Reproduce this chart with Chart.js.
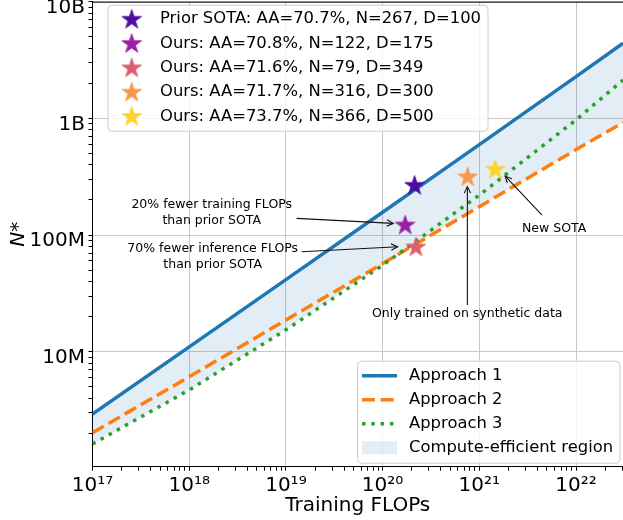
<!DOCTYPE html>
<html><head><meta charset="utf-8">
<script src="https://cdn.jsdelivr.net/npm/chart.js@4.4.0/dist/chart.umd.min.js"></script>
<style>html,body{margin:0;padding:0;background:#fff;overflow:hidden}canvas{display:block}</style>
</head><body>
<canvas id="c" width="623" height="520"></canvas>
<script>
// ---------------- data ----------------
const curveFlops = [1e17, 1e18, 1e19, 1e20, 1e21, 1e22, 3.06e22];
const approach1  = [2.92e6, 1.10e7, 4.15e7, 1.57e8, 5.95e8, 2.28e9, 4.4e9];
const approach2  = [2.02e6, 6.1e6, 1.87e7, 5.7e7, 1.75e8, 5.4e8, 9.2e8];
const approach3  = [1.62e6, 4.7e6, 1.54e7, 5.5e7, 2.2e8, 9.7e8, 2.13e9];
const seriesNames = ['Approach 1', 'Approach 2', 'Approach 3'];
const regionName = 'Compute-efficient region';

const modelFlops  = [2.14e20, 1.71e20, 2.21e20, 7.58e20, 1.46e21];
const modelParams = [267e6, 122e6, 79e6, 316e6, 366e6];
const modelNames  = [
  'Prior SOTA: AA=70.7%, N=267, D=100',
  'Ours: AA=70.8%, N=122, D=175',
  'Ours: AA=71.6%, N=79, D=349',
  'Ours: AA=71.7%, N=316, D=300',
  'Ours: AA=73.7%, N=366, D=500'
];

const xTickValues = [1e17, 1e18, 1e19, 1e20, 1e21, 1e22];
const xTickLabels = ['10¹⁷', '10¹⁸', '10¹⁹', '10²⁰', '10²¹', '10²²'];
const yTickValues = [1e7, 1e8, 1e9, 1e10];
const yTickLabels = ['10M', '100M', '1B', '10B'];
const xTitle = 'Training FLOPs';
const yTitle = 'N*';

// annotations: text anchor / arrow in data coordinates
const annotations = [
  {lines: ['20% fewer training FLOPs', 'than prior SOTA'], at: [1.71e18, 1.55e8], from: [1.29e19, 1.39e8], to: [1.29e20, 1.26e8]},
  {lines: ['70% fewer inference FLOPs', 'than prior SOTA'], at: [1.75e18, 6.5e7], from: [1.46e19, 7.2e7], to: [1.43e20, 7.94e7]},
  {lines: ['Only trained on synthetic data'], at: [7.5e20, 2.13e7], from: [7.52e20, 2.51e7], to: [7.52e20, 2.6e8]},
  {lines: ['New SOTA'], at: [5.93e21, 1.14e8], from: [4.45e21, 1.48e8], to: [1.85e21, 3.2e8]}
];

// ---------------- styles ----------------
const FONT = 'DejaVu Sans';
const lineColors = ['#1f77b4', '#ff7f0e', '#2ca02c'];
const lineDashes = [[], [13, 5.6], [3.5, 5.8]];
const lineWidth = 3.5;
const starColors = ['#4b0c9f', '#9a1fa2', '#dd5e6c', '#f7984a', '#fbd32b'];
const regionColor = 'rgba(31,119,180,0.13)';
const gridColor = '#c8c8c8';

Chart.defaults.font.family = FONT;
Chart.defaults.color = '#000';

function makeStar(color, R) {
  const s = Math.ceil(R * 2 + 2);
  const c = document.createElement('canvas');
  c.width = s; c.height = s;
  const g = c.getContext('2d');
  const cx = s / 2, cy = s / 2 + R * 0.05, r = R * 0.382;
  g.beginPath();
  for (let i = 0; i < 10; i++) {
    const rad = i % 2 ? r : R;
    const a = -Math.PI / 2 + i * Math.PI / 5;
    const px = cx + rad * Math.cos(a), py = cy + rad * Math.sin(a);
    if (i) g.lineTo(px, py); else g.moveTo(px, py);
  }
  g.closePath();
  g.fillStyle = color; g.fill();
  g.strokeStyle = color; g.lineWidth = 0.8; g.stroke();
  return c;
}
const starImgs = starColors.map(c => makeStar(c, 10.3));

function isPow10(v) { const l = Math.log10(v); return Math.abs(l - Math.round(l)) < 1e-6; }
function logTicks(min, max) {
  const out = [];
  for (let e = Math.floor(Math.log10(min)); e <= Math.ceil(Math.log10(max)); e++) {
    for (let m = 1; m <= 9; m++) {
      const v = m * Math.pow(10, e);
      if (v >= min * (1 - 1e-9) && v <= max * (1 + 1e-9)) out.push({value: v});
    }
  }
  return out;
}
function lookup(vals, labels, v) {
  for (let i = 0; i < vals.length; i++) if (Math.abs(Math.log10(v) - Math.log10(vals[i])) < 1e-6) return labels[i];
  return '';
}

const X_MIN = 1e17, X_MAX = 3.06e22, Y_MIN = 1.034e6, Y_MAX = 1e10;

const lineSets = [approach1, approach2, approach3].map((arr, k) => ({
  label: seriesNames[k],
  data: curveFlops.map((x, i) => ({x: x, y: arr[i]})),
  borderColor: lineColors[k],
  backgroundColor: lineColors[k],
  borderWidth: lineWidth,
  borderDash: lineDashes[k],
  borderCapStyle: 'butt',
  pointRadius: 0,
  tension: 0,
  order: 3 - k,
  fill: k === 0 ? {target: 1, above: regionColor, below: regionColor}
      : k === 1 ? {target: 2, above: regionColor, below: 'rgba(0,0,0,0)'}
      : false
}));
const starSets = modelFlops.map((x, i) => ({
  label: modelNames[i],
  data: [{x: x, y: modelParams[i]}],
  showLine: false,
  pointStyle: starImgs[i],
  pointRadius: 10,
  backgroundColor: starColors[i],
  borderColor: starColors[i],
  order: 0
}));

const frame = {
  id: 'frame',
  afterDraw(chart) {
    const {ctx, chartArea: a} = chart;
    ctx.save();
    ctx.strokeStyle = '#000'; ctx.lineWidth = 1;
    ctx.beginPath(); ctx.moveTo(a.left, a.top + 0.5); ctx.lineTo(a.right, a.top + 0.5); ctx.stroke();
    ctx.restore();
  }
};

function arrow(ctx, x1, y1, x2, y2) {
  ctx.beginPath(); ctx.moveTo(x1, y1); ctx.lineTo(x2, y2); ctx.stroke();
  const ang = Math.atan2(y2 - y1, x2 - x1), L = 6.5, W = 3.2;
  const bx = x2 - L * Math.cos(ang), by = y2 - L * Math.sin(ang);
  const nx = -Math.sin(ang), ny = Math.cos(ang);
  ctx.beginPath();
  ctx.moveTo(bx + nx * W, by + ny * W); ctx.lineTo(x2, y2); ctx.lineTo(bx - nx * W, by - ny * W);
  ctx.stroke();
}

const annot = {
  id: 'annot',
  afterDatasetsDraw(chart) {
    const {ctx, scales: {x, y}} = chart;
    ctx.save();
    ctx.strokeStyle = '#111'; ctx.lineWidth = 1.1; ctx.fillStyle = '#000';
    ctx.font = '12.5px "' + FONT + '"';
    ctx.textAlign = 'center'; ctx.textBaseline = 'middle';
    annotations.forEach(a => {
      const tx = x.getPixelForValue(a.at[0]), ty = y.getPixelForValue(a.at[1]);
      const lh = 15.7, n = a.lines.length;
      a.lines.forEach((t, i) => ctx.fillText(t, tx, ty + (i - (n - 1) / 2) * lh));
      arrow(ctx, x.getPixelForValue(a.from[0]), y.getPixelForValue(a.from[1]),
                 x.getPixelForValue(a.to[0]), y.getPixelForValue(a.to[1]));
    });
    ctx.restore();
  }
};

function roundRect(ctx, x, y, w, h, r) {
  ctx.beginPath();
  ctx.moveTo(x + r, y); ctx.lineTo(x + w - r, y); ctx.arcTo(x + w, y, x + w, y + r, r);
  ctx.lineTo(x + w, y + h - r); ctx.arcTo(x + w, y + h, x + w - r, y + h, r);
  ctx.lineTo(x + r, y + h); ctx.arcTo(x, y + h, x, y + h - r, r);
  ctx.lineTo(x, y + r); ctx.arcTo(x, y, x + r, y, r); ctx.closePath();
}

const legends = {
  id: 'legends',
  afterDraw(chart) {
    const ctx = chart.ctx, a = chart.chartArea;
    const ds = chart.data.datasets;
    ctx.save();
    ctx.font = '16.4px "' + FONT + '"';
    ctx.textBaseline = 'middle'; ctx.textAlign = 'left';
    // legend 1 (stars), upper left
    const L1 = {x: a.left + 15.5, y: a.top + 3.5, w: 380, h: 126};
    roundRect(ctx, L1.x, L1.y, L1.w, L1.h, 4);
    ctx.fillStyle = 'rgba(255,255,255,0.8)'; ctx.fill();
    ctx.strokeStyle = '#cccccc'; ctx.lineWidth = 1; ctx.stroke();
    const stars = ds.filter(d => d.showLine === false);
    stars.forEach((d, i) => {
      const ry = L1.y + 14 + i * 24.3;
      const img = d.pointStyle;
      ctx.drawImage(img, L1.x + 23.7 - img.width / 2, ry - img.height / 2);
      ctx.fillStyle = '#000';
      ctx.fillText(d.label, L1.x + 52, ry);
    });
    // legend 2 (lines), lower right
    const L2 = {x: 357.5, y: a.bottom - 105.5, w: 262.5, h: 102};
    roundRect(ctx, L2.x, L2.y, L2.w, L2.h, 4);
    ctx.fillStyle = 'rgba(255,255,255,0.8)'; ctx.fill();
    ctx.strokeStyle = '#cccccc'; ctx.lineWidth = 1; ctx.stroke();
    const lines = ds.filter(d => d.showLine !== false);
    lines.forEach((d, i) => {
      const ry = L2.y + 14.5 + i * 24;
      ctx.save();
      ctx.strokeStyle = d.borderColor; ctx.lineWidth = d.borderWidth; ctx.lineCap = 'butt';
      ctx.setLineDash(d.borderDash || []);
      ctx.beginPath(); ctx.moveTo(L2.x + 4.5, ry); ctx.lineTo(L2.x + 39.5, ry); ctx.stroke();
      ctx.restore();
      ctx.fillStyle = '#000';
      ctx.fillText(d.label, L2.x + 51.5, ry);
    });
    const ry = L2.y + 14.5 + 3 * 24;
    ctx.fillStyle = regionColor;
    ctx.fillRect(L2.x + 4.5, ry - 6.5, 35, 13);
    ctx.fillStyle = '#000';
    ctx.fillText(regionName, L2.x + 51.5, ry);
    ctx.restore();
  }
};

new Chart(document.getElementById('c'), {
  type: 'line',
  data: {datasets: [...lineSets, ...starSets]},
  options: {
    responsive: false,
    animation: false,
    layout: {autoPadding: false, padding: {top: 1.7, right: 0, left: 0, bottom: 0}},
    plugins: {legend: {display: false}, tooltip: {enabled: false}},
    scales: {
      x: {
        type: 'logarithmic', min: X_MIN, max: X_MAX, bounds: 'data',
        afterBuildTicks: s => { s.ticks = logTicks(X_MIN, X_MAX); },
        afterFit: s => { s.height = 53.3; s.paddingLeft = 0; s.paddingRight = 0; },
        ticks: {autoSkip: false, maxRotation: 0, minRotation: 0, padding: 3, color: '#000',
                font: {family: FONT, size: 20},
                callback: v => lookup(xTickValues, xTickLabels, v)},
        grid: {color: c => (c.tick && isPow10(c.tick.value)) ? gridColor : 'rgba(0,0,0,0)',
               tickColor: '#000', tickLength: 4, lineWidth: 1},
        border: {display: true, color: '#000', width: 1},
        title: {display: true, text: xTitle, color: '#000', font: {family: FONT, size: 20}, padding: {top: 0, bottom: 2}}
      },
      y: {
        type: 'logarithmic', min: Y_MIN, max: Y_MAX, bounds: 'data',
        afterBuildTicks: s => { s.ticks = logTicks(Y_MIN, Y_MAX); },
        afterFit: s => { s.width = 92.5; s.paddingTop = 0; s.paddingBottom = 0; },
        ticks: {autoSkip: false, padding: 3.5, labelOffset: 6, color: '#000',
                font: {family: FONT, size: 20},
                callback: v => lookup(yTickValues, yTickLabels, v)},
        grid: {color: c => (c.tick && isPow10(c.tick.value)) ? gridColor : 'rgba(0,0,0,0)',
               tickColor: '#000', tickLength: 4, lineWidth: 1},
        border: {display: true, color: '#000', width: 1},
        title: {display: true, text: yTitle, color: '#000', font: {family: FONT, size: 20, style: 'italic'}, padding: {top: 7, bottom: 0}}
      }
    }
  },
  plugins: [frame, annot, legends]
});
</script>
</body></html>
